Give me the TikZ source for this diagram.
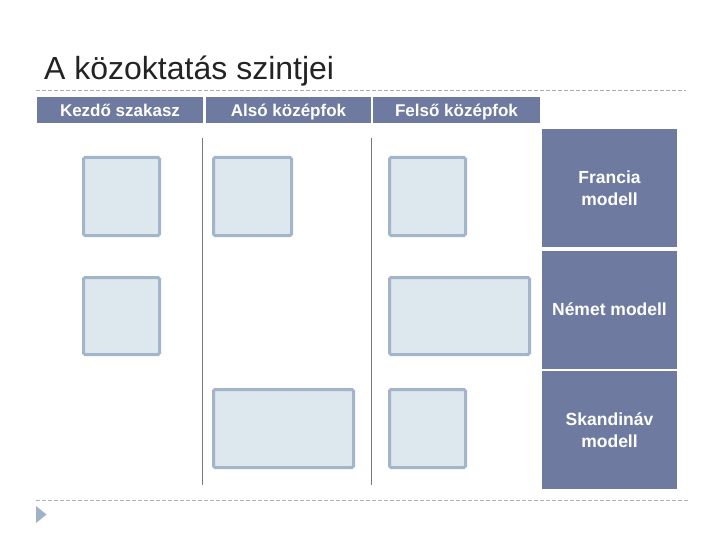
\documentclass[tikz,border=0pt]{standalone}
\usepackage{fontspec}
\setmainfont{Liberation Sans}
\definecolor{barblue}{RGB}{111,122,160}
\definecolor{boxfill}{RGB}{221,231,238}
\definecolor{boxedge}{RGB}{163,181,200}
\definecolor{dashgray}{RGB}{175,175,175}
\definecolor{vline}{RGB}{120,120,120}
\definecolor{titlegray}{RGB}{35,35,35}
\definecolor{trifill}{RGB}{160,178,202}
\tikzset{
  hdr/.style={fill=barblue, text=white, font=\fontsize{17}{20}\selectfont\bfseries, minimum height=26pt, inner sep=0pt, text height=13pt, text depth=0pt},
  lbox/.style={draw=boxedge, fill=boxfill, line width=3pt, rounded corners=1.5pt, inner sep=0pt},
  model/.style={fill=barblue, text=white, font=\fontsize{17.5}{22}\selectfont\bfseries, align=center, minimum width=135pt, minimum height=118pt, inner sep=0pt},
  dashrule/.style={draw=dashgray, line width=0.8pt, dash pattern=on 4pt off 2pt},
  sep/.style={draw=vline, line width=1pt}
}
\begin{document}
\begin{tikzpicture}[x=1pt,y=-1pt]
\useasboundingbox (0,0) rectangle (720,540);
% title
\node[anchor=base west, inner sep=0pt, text=titlegray, font=\fontsize{32}{38}\selectfont] (title) at (44,80) {A közoktatás szintjei};
\coordinate (d1a) at (36,90); \coordinate (d1b) at (686,90);
\draw[dashrule] (d1a) -- (d1b);
% headers
\node[hdr, minimum width=166pt] (h1) at (120,110) {Kezdő szakasz};
\node[hdr, minimum width=165pt] (h2) at (288.5,110) {Alsó középfok};
\node[hdr, minimum width=167pt] (h3) at (456.5,110) {Felső középfok};
% separators
\coordinate (s1a) at (202,138); \coordinate (s1b) at (202,485);
\coordinate (s2a) at (371.5,138); \coordinate (s2b) at (371.5,485);
\draw[sep] (s1a) -- (s1b);
\draw[sep] (s2a) -- (s2b);
% light boxes
\node[lbox, minimum width=76pt, minimum height=78pt] (b1) at (121.5,196.5) {};
\node[lbox, minimum width=78pt, minimum height=78pt] (b2) at (252.5,196.5) {};
\node[lbox, minimum width=76pt, minimum height=78pt] (b3) at (427.5,196.5) {};
\node[lbox, minimum width=76pt, minimum height=77pt] (b4) at (121.5,316) {};
\node[lbox, minimum width=140pt, minimum height=77pt] (b5) at (459.5,316) {};
\node[lbox, minimum width=140pt, minimum height=78pt] (b6) at (283.5,428.5) {};
\node[lbox, minimum width=76pt, minimum height=78pt] (b7) at (427.5,428.5) {};
% model blocks
\node[model] (m1) at (609.5,188) {Francia\\modell};
\node[model] (m2) at (609.5,309.5) {Német modell};
\node[model] (m3) at (609.5,430) {Skandináv\\modell};
% bottom rule and marker
\coordinate (d2a) at (36,500); \coordinate (d2b) at (689,500);
\draw[dashrule] (d2a) -- (d2b);
\fill[trifill] (36,506) -- (46.5,514.5) -- (36,523) -- cycle;
\end{tikzpicture}
\end{document}
